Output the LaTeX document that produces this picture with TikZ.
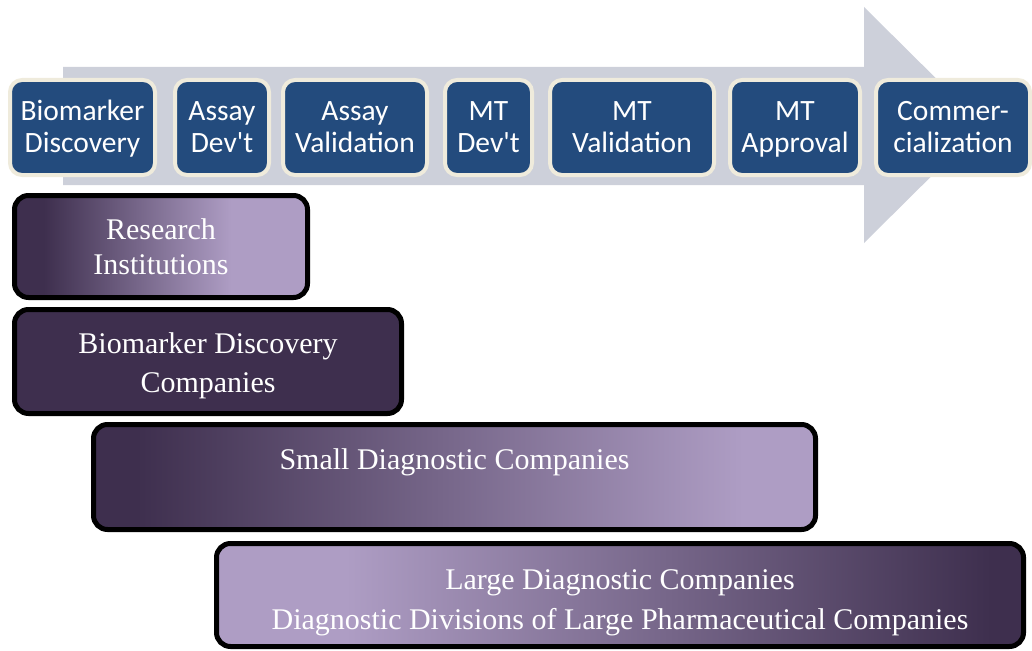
\documentclass[tikz,border=0pt]{standalone}
\usepackage{fontspec}
\setmainfont{Liberation Serif}
\newfontfamily\stagefont{Carlito}
\definecolor{arrowgray}{HTML}{CDD0DA}
\definecolor{stageblue}{HTML}{234B7D}
\definecolor{cream}{HTML}{EFEBDC}
\definecolor{pdark}{HTML}{3E2F4E}
\definecolor{plight}{HTML}{AE9DC4}
% horizontal shadings: 25bp = left edge of the box, 75bp = right edge
\pgfdeclarehorizontalshading{resshade}{100bp}{color(0bp)=(pdark); color(30bp)=(pdark); color(62bp)=(plight); color(100bp)=(plight)}
\pgfdeclarehorizontalshading{smallshade}{100bp}{color(0bp)=(pdark); color(28bp)=(pdark); color(70bp)=(plight); color(100bp)=(plight)}
\pgfdeclarehorizontalshading{largeshade}{100bp}{color(0bp)=(plight); color(33bp)=(plight); color(73bp)=(pdark); color(100bp)=(pdark)}
% fixed-height rules keep every two-line stage label at the same height
\newcommand{\stagelabel}[2]{#1\rule{0pt}{28pt}\\#2\strut}
\begin{document}
\begin{tikzpicture}[x=1pt,y=-1pt,
  stage/.style={draw=cream, line width=4pt, fill=stageblue, rounded corners=12pt,
    text=white, font=\stagefont\fontsize{29.5}{32}\selectfont, align=center,
    minimum height=95pt, inner sep=0pt},
  player/.style={draw=black, line width=5pt, rounded corners=14pt, inner sep=0pt},
  ptext/.style={text=white, align=center, inner sep=0pt}]
\useasboundingbox (0,0) rectangle (1032,650);

% process arrow
\fill[arrowgray] (63,67) -- (864,67) -- (864,7) -- (983,125) -- (864,243)
  -- (864,185) -- (63,185) -- cycle;

% process stages
\node[stage, minimum width=145pt] (s1) at (82.5,127.5) {\stagelabel{Biomarker}{Discovery}};
\node[stage, minimum width=94pt]  (s2) at (222,127.5) {\stagelabel{Assay}{Dev't}};
\node[stage, minimum width=144pt] (s3) at (355,127.5) {\stagelabel{Assay}{Validation}};
\node[stage, minimum width=87pt]  (s4) at (488.5,127.5) {\stagelabel{MT}{Dev't}};
\node[stage, minimum width=164pt] (s5) at (632,127.5) {\stagelabel{MT}{Validation}};
\node[stage, minimum width=130pt] (s6) at (795,127.5) {\stagelabel{MT}{Approval}};
\node[stage, minimum width=154pt] (s7) at (953,127.5) {\stagelabel{Commer-}{cialization}};

% players
\node[player, shading=resshade, minimum width=293pt, minimum height=102pt] (res) at (161,246.5) {};
\node[ptext, font=\fontsize{30}{35}\selectfont] (restxt) at (161,247) {Research\\Institutions};

\node[player, fill=pdark, minimum width=387pt, minimum height=104pt] (bdc) at (208,361.5) {};
\node[ptext, font=\fontsize{30}{39}\selectfont] (bdctxt) at (208,366) {Biomarker Discovery\\Companies};

\node[player, shading=smallshade, minimum width=722pt, minimum height=105pt] (sdc) at (454.5,477) {};
\node[ptext, font=\fontsize{30}{36}\selectfont] (sdctxt) at (454.5,462) {Small Diagnostic Companies};

\node[player, shading=largeshade, minimum width=807pt, minimum height=103pt] (ldc) at (620,595) {};
\node[ptext, font=\fontsize{30}{40}\selectfont] (ldctxt) at (620,602.5) {Large Diagnostic Companies\\Diagnostic Divisions of Large Pharmaceutical Companies};
\end{tikzpicture}
\end{document}
